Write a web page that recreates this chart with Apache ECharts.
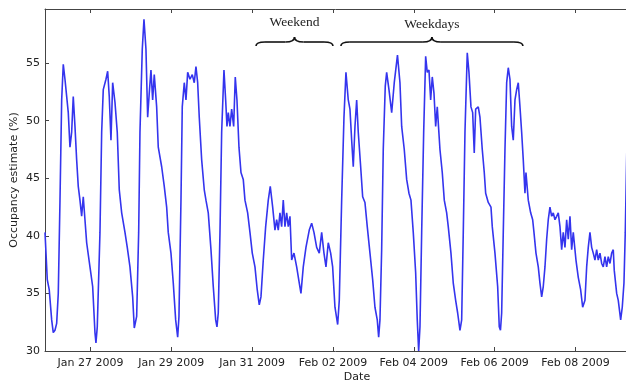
<!DOCTYPE html>
<html>
<head>
<meta charset="utf-8">
<script src="https://cdn.jsdelivr.net/npm/echarts@6/dist/echarts.min.js"></script>
<style>
html,body{margin:0;padding:0;background:#fff;}
#chart{width:626px;height:384px;}
</style>
</head>
<body>
<div id="chart"></div>
<script>
// Hours elapsed since 2009-01-25 00:00 (local time) for each sample
const hoursSinceJan25 = [
  21.0,22.35,23.53,24.96,25.91,26.92,27.93,28.88,29.89,30.9,31.85,32.86,33.87,34.82,35.83,36.83,37.78,38.8,39.8,40.75,
  41.76,42.77,43.72,44.73,45.74,47.7,49.3,50.67,51.26,52.04,53.64,54.65,55.6,57.2,58.21,59.16,60.17,61.18,62.55,63.91,
  65.1,66.53,68.49,69.85,71.45,73.06,74.01,75.43,76.62,77.39,78.76,79.77,80.95,81.96,82.91,83.92,84.93,85.88,87.3,88.26,
  90.28,91.82,93.24,94.19,95.8,97.17,98.59,99.78,100.55,101.74,102.51,103.7,104.71,105.72,107.08,108.45,109.63,110.64,111.65,112.6,
  114.03,115.57,116.58,117.95,119.55,120.92,122.34,123.11,123.88,124.9,125.9,127.27,128.28,129.05,129.83,130.83,131.84,133.03,133.98,134.99,
  136.18,137.37,138.73,139.74,141.34,142.71,144.08,145.68,147.04,148.23,149.24,150.61,152.03,153.58,154.76,156.19,157.55,158.56,159.51,160.52,
  161.53,162.48,163.49,164.5,165.45,166.46,167.47,168.84,170.44,171.99,172.99,174.36,175.96,177.92,179.35,180.71,182.32,183.86,185.29,186.65,
  187.84,189.2,190.63,191.81,193.18,194.79,195.74,197.16,198.53,199.71,201.08,202.09,203.1,204.05,205.06,206.07,207.02,208.44,209.63,210.99,
  212.36,213.97,215.57,216.93,218.3,219.13,219.9,220.91,221.86,223.05,223.88,225.25,226.86,228.39,230.3,231.78,232.79,234.33,235.76,237.12,
  238.31,239.68,241.1,242.05,242.88,243.66,244.67,245.86,247.04,247.99,249.0,250.01,250.96,251.97,252.98,253.93,255.53,256.9,258.09,259.51,
  260.46,262.06,263.43,264.85,266.04,267.41,268.42,269.37,270.38,271.74,272.75,273.94,274.95,275.89,276.73,278.27,279.28,280.65,281.84,282.67,
  284.21,285.82,286.59,288.19,289.79,290.74,291.46,292.17,293.12,294.13,295.14,296.09,297.1,298.11,299.06,300.07,301.08,302.03,303.04,304.04,
  305.0,306.01,306.6,307.97,309.39,310.58,311.35,312.54,313.91,314.91,315.92,316.87,317.88,318.89,319.84,320.85,321.86,322.81,323.82,324.83,
  325.78,326.79,327.8,328.75,329.76,330.77,331.72,332.73,333.74,334.69,336.29,337.66,339.08,340.27,341.63,342.64,343.59,344.6,345.61,346.56,
  347.57,348.58,349.53,350.54,351.55,352.5,353.51,354.52,355.47,356.48,357.49,358.44,359.03,360.46,361.41,362.83,363.78,364.79,365.57,366.56
];
// Occupancy estimate (%) at each sample
const occupancy = [
  40.3,36.2,35.3,32.7,31.6,31.8,32.4,35.0,43.0,51.8,54.9,53.6,53.6,50.7,47.7,49.0,52.1,49.5,46.6,44.3,
  43.1,41.7,43.4,41.4,39.4,37.3,35.6,31.6,30.7,32.1,40.3,49.0,52.7,53.6,54.3,52.1,48.3,53.3,51.6,49.0,
  44.0,42.0,40.3,39.0,37.3,34.7,32.0,33.0,40.3,49.0,56.2,58.8,56.2,50.3,52.4,54.4,51.8,54.0,51.2,47.7,
  46.0,44.3,42.5,40.3,38.5,35.9,32.7,31.2,33.0,43.1,51.2,53.3,51.8,54.2,53.6,54.0,53.3,54.7,53.3,50.3,
  46.6,44.0,43.1,42.0,38.8,35.6,32.7,32.1,33.3,40.3,49.0,54.4,51.8,49.5,50.7,49.5,51.0,49.5,53.8,51.8,
  47.7,45.5,44.9,43.1,42.0,40.3,38.5,37.3,35.3,34.0,34.7,37.9,40.8,43.1,44.3,42.5,40.5,41.4,40.5,42.0,
  40.8,43.1,40.8,42.0,40.8,41.7,37.9,38.5,37.3,35.9,35.0,37.3,39.0,40.5,41.1,40.3,39.0,38.5,40.3,38.5,
  37.3,39.4,38.5,37.3,33.8,32.3,34.4,43.1,50.3,54.2,51.8,51.0,48.3,46.0,49.5,51.8,49.0,46.0,43.4,42.9,
  40.8,38.5,36.2,33.8,32.7,31.2,32.7,38.8,47.5,53.0,54.2,52.7,50.7,53.3,55.7,53.3,49.5,47.5,44.9,43.7,
  43.1,40.3,36.8,32.7,30.0,32.1,40.3,49.0,55.6,54.2,54.4,51.8,53.8,52.4,49.5,51.2,47.5,45.5,43.1,42.0,
  40.8,38.5,35.9,34.4,33.3,31.8,32.7,40.3,49.0,55.9,54.2,51.2,50.7,47.2,51.0,51.2,50.3,47.5,45.5,43.7,
  42.9,42.5,40.8,38.5,35.6,32.1,31.8,33.3,40.3,47.5,53.3,54.6,53.6,49.5,48.3,51.8,52.7,53.3,51.2,49.0,
  46.6,43.7,45.5,43.1,42.0,41.4,40.3,38.5,37.3,35.9,34.7,35.6,37.3,39.7,41.4,42.5,41.7,42.0,41.4,41.7,
  42.0,40.8,38.8,40.3,39.0,41.4,39.7,41.7,38.8,40.3,37.9,36.4,35.3,33.8,34.4,37.3,39.0,40.3,39.0,38.5,
  37.9,38.8,37.9,38.5,37.6,37.3,38.2,37.3,38.2,37.6,38.5,38.8,37.0,35.0,34.4,32.7,33.8,35.9,40.3,48.0
];
// Tick dates (labelled every two days)
const tickDates = ['2009-01-27','2009-01-29','2009-01-31','2009-02-02','2009-02-04','2009-02-06','2009-02-08'];
const yTicks = [30, 35, 40, 45, 50, 55];
// Annotation braces: label, start hour, end hour (since 2009-01-25 00:00)
const braceLabels = ['Weekend', 'Weekdays'];
const braceStartHours = [146.3, 196.7];
const braceEndHours = [192.0, 304.8];

const base = new Date(2009, 0, 25).getTime();
const H = 3600 * 1000;
const toTime = h => base + h * H;
const parseDay = s => { const p = s.split('-').map(Number); return new Date(p[0], p[1] - 1, p[2]).getTime(); };
const tickTimes = tickDates.map(parseDay);
const months = ['Jan','Feb','Mar','Apr','May','Jun','Jul','Aug','Sep','Oct','Nov','Dec'];
const fmt = v => { const d = new Date(v); return months[d.getMonth()] + ' ' + String(d.getDate()).padStart(2, '0') + ' ' + d.getFullYear(); };

const data = hoursSinceJan25.map((h, i) => [toTime(h), occupancy[i]]);
const xMin = toTime(21.0), xMax = toTime(366.0);
const font = 'DejaVu Sans';
const axisColor = '#444';

const chart = echarts.init(document.getElementById('chart'), null, { renderer: 'canvas' });
chart.setOption({
  animation: false,
  backgroundColor: '#fff',
  grid: { left: 45, right: 0, top: 9, bottom: 33, containLabel: false, outerBoundsMode: 'none' },
  xAxis: [{
    type: 'value', min: xMin, max: xMax, position: 'bottom', scale: true,
    name: 'Date', nameLocation: 'middle', nameGap: 21, nameMoveOverlap: false,
    nameTextStyle: { fontFamily: font, fontSize: 11, color: '#222', padding: [0, 0, 0, 43] },
    axisLine: { show: true, onZero: false, lineStyle: { color: axisColor, width: 1 } },
    axisTick: { show: true, inside: true, length: 4, customValues: tickTimes, lineStyle: { color: axisColor } },
    axisLabel: { customValues: tickTimes, formatter: fmt, fontFamily: font, fontSize: 11, color: '#222', margin: 7 },
    splitLine: { show: false }
  }, {
    type: 'value', min: xMin, max: xMax, position: 'top', scale: true,
    axisLine: { show: true, onZero: false, lineStyle: { color: axisColor, width: 1 } },
    axisTick: { show: true, inside: true, length: 4, customValues: tickTimes, lineStyle: { color: axisColor } },
    axisLabel: { show: false },
    splitLine: { show: false }
  }],
  yAxis: {
    type: 'value', min: 30, max: 59.7,
    name: 'Occupancy estimate (%)', nameLocation: 'middle', nameGap: 25, nameMoveOverlap: false,
    nameTextStyle: { fontFamily: font, fontSize: 11, color: '#222' },
    axisLine: { show: true, onZero: false, lineStyle: { color: axisColor, width: 1 } },
    axisTick: { show: true, inside: true, length: 4, customValues: yTicks, lineStyle: { color: axisColor } },
    axisLabel: { customValues: yTicks, fontFamily: font, fontSize: 11, color: '#222', margin: 5 },
    splitLine: { show: false }
  },
  series: [{
    type: 'line', data: data, showSymbol: false, clip: true,
    lineStyle: { color: '#3434ee', width: 1.6 }
  }]
});

function drawBraces() {
  const els = [];
  const st = { stroke: '#111', lineWidth: 1.6, fill: null };
  const curve = (x1, y1, cx, cy, x2, y2) => ({ type: 'bezierCurve', shape: { x1: x1, y1: y1, cpx1: cx, cpy1: cy, x2: x2, y2: y2 }, style: st });
  const seg = (x1, y1, x2, y2) => ({ type: 'line', shape: { x1: x1, y1: y1, x2: x2, y2: y2 }, style: st });
  braceLabels.forEach((label, i) => {
    const x0 = chart.convertToPixel({ xAxisIndex: 0 }, toTime(braceStartHours[i]));
    const x1 = chart.convertToPixel({ xAxisIndex: 0 }, toTime(braceEndHours[i]));
    const xc = (x0 + x1) / 2;
    const yb = 46, ym = 42, yt = 37, q = 9;
    els.push(curve(x0, yb, x0, ym, x0 + q, ym));
    els.push(seg(x0 + q, ym, xc - q, ym));
    els.push(curve(xc - q, ym, xc, ym, xc, yt));
    els.push(curve(xc, yt, xc, ym, xc + q, ym));
    els.push(seg(xc + q, ym, x1 - q, ym));
    els.push(curve(x1 - q, ym, x1, ym, x1, yb));
    els.push({ type: 'text', x: xc, y: i === 0 ? 22 : 24, style: { text: label, fontFamily: 'Liberation Serif', fontSize: 13.5, fill: '#222', align: 'center', verticalAlign: 'middle' } });
  });
  chart.setOption({ graphic: { elements: els } });
}
drawBraces();
</script>
</body>
</html>
